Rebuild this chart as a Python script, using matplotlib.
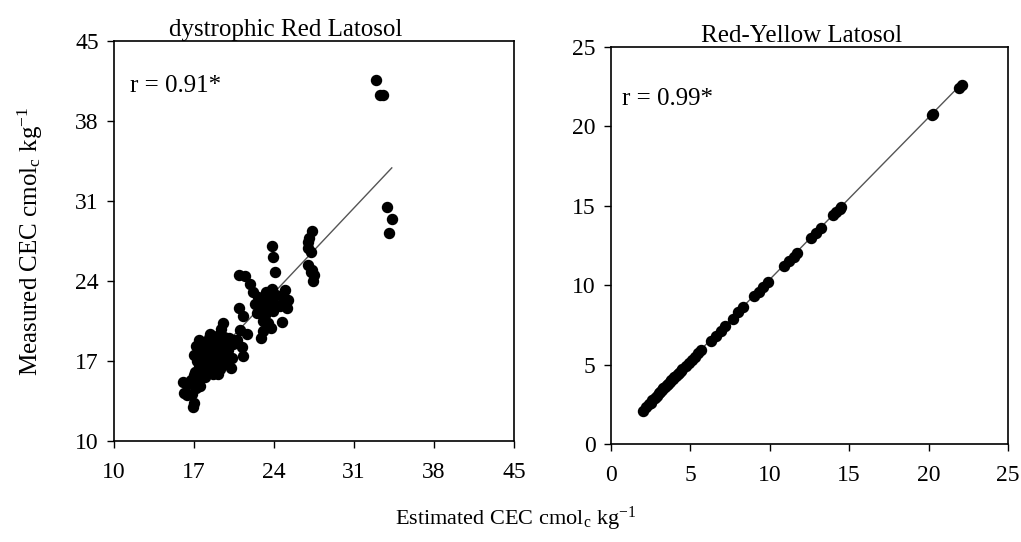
import numpy as np
import matplotlib
matplotlib.use('Agg')
import matplotlib.pyplot as plt

plt.rcParams['font.family'] = ['Liberation Serif', 'DejaVu Serif']
plt.rcParams['mathtext.fontset'] = 'custom'
plt.rcParams['mathtext.rm'] = 'Liberation Serif'
plt.rcParams['mathtext.it'] = 'Liberation Serif'

# dystrophic Red Latosol: estimated (x) vs measured (y) CEC
red_x = [16.0, 16.1, 16.5, 16.8, 17.0, 16.9, 17.2, 16.4, 17.3, 17.0, 16.7, 17.5,
         17.0, 17.2, 17.4, 17.5, 17.6, 17.8, 17.9, 18.0, 18.1, 18.2, 18.3, 18.4,
         18.5, 18.6, 18.7, 18.8, 18.9, 19.0, 19.1, 19.2, 19.3, 19.4, 19.5, 19.6,
         19.7, 19.8, 20.0, 20.1, 20.2, 20.3, 17.3, 17.7, 18.0, 18.3, 18.6, 18.9,
         19.1, 17.5, 17.1, 18.4, 19.9, 20.4, 17.8, 18.2, 18.5, 18.8, 19.3, 19.6,
         17.4, 17.9,
         20.9, 21.3, 21.0, 21.6, 21.2, 21.3, 20.8, 20.9, 21.5, 21.9, 22.2, 20.4,
         22.3, 22.5, 22.6, 22.8, 23.0, 23.0, 23.2, 23.3, 23.4, 23.5, 23.6, 23.7,
         23.8, 23.9, 24.0, 24.2, 24.5, 24.7, 24.8, 25.0, 25.2, 25.1, 23.0, 22.9,
         23.8, 23.9, 24.1,
         27.0, 27.1, 27.3, 27.0, 27.2, 27.0, 27.3, 27.5, 27.4, 27.2,
         32.9, 33.3, 33.5, 33.9, 34.3, 34.1]
red_y = [15.2, 14.2, 15.0, 14.1, 13.3, 13.0, 14.6, 14.0, 15.4, 15.8, 15.3, 14.8,
         17.5, 18.3, 16.5, 17.8, 16.0, 18.6, 17.2, 15.6, 16.8, 18.0, 19.0, 17.4,
         16.2, 18.5, 15.9, 17.8, 16.7, 19.2, 18.1, 17.0, 16.3, 19.8, 20.3, 18.6,
         17.5, 16.9, 18.0, 19.0, 16.4, 17.3, 17.0, 17.9, 17.6, 16.3, 17.1, 18.7,
         15.9, 15.5, 16.0, 19.4, 17.8, 18.5, 16.4, 17.2, 18.9, 16.2, 17.8, 19.1,
         18.8, 15.8,
         21.6, 20.9, 19.7, 19.4, 18.2, 17.4, 18.8, 24.5, 24.4, 23.7, 23.0, 18.8,
         22.0, 21.2, 22.6, 21.6, 20.5, 22.2, 21.0, 23.0, 21.8, 20.3, 22.4, 19.9,
         23.3, 21.4, 22.0, 22.8, 21.8, 20.4, 22.5, 23.2, 22.3, 21.6, 19.6, 19.0,
         27.1, 26.1, 24.8,
         27.4, 27.8, 28.4, 26.9, 26.5, 25.4, 25.0, 24.5, 24.0, 24.8,
         41.6, 40.3, 40.3, 30.5, 29.4, 28.2]
red_fit_x = [16.0, 34.3]
red_fit_y = [14.5, 33.9]

# Red-Yellow Latosol
ry_x = [2.0, 2.2, 2.4, 2.5, 2.6, 2.8, 2.9, 3.0, 3.1, 3.2, 3.3, 3.4, 3.5, 3.6,
        3.7, 3.8, 3.9, 4.0, 4.1, 4.2, 4.3, 4.4, 4.5, 4.7, 4.9, 5.1, 5.3, 5.5,
        5.7, 6.3, 6.6, 6.9, 7.2, 7.7, 8.0, 8.3, 9.0, 9.3, 9.6, 9.9, 10.9, 11.2,
        11.5, 11.7, 12.6, 12.9, 13.2, 14.0, 14.2, 14.4, 14.5, 20.2, 20.3, 21.9,
        22.1]
ry_y = [2.1, 2.3, 2.5, 2.6, 2.8, 2.9, 3.0, 3.2, 3.3, 3.4, 3.5, 3.6, 3.7, 3.8,
        3.9, 4.0, 4.1, 4.2, 4.3, 4.4, 4.5, 4.6, 4.7, 4.9, 5.1, 5.3, 5.5, 5.7,
        5.9, 6.5, 6.8, 7.1, 7.4, 7.9, 8.3, 8.6, 9.3, 9.6, 9.9, 10.2, 11.2, 11.5,
        11.8, 12.0, 13.0, 13.3, 13.6, 14.4, 14.6, 14.8, 14.9, 20.7, 20.8, 22.4,
        22.6]
ry_fit_x = [1.8, 22.0]
ry_fit_y = [2.0, 22.6]

fig = plt.figure(figsize=(10.21, 5.42), dpi=100)
ax1 = fig.add_axes([0.1117, 0.1863, 0.3918, 0.738])
ax2 = fig.add_axes([0.5984, 0.1808, 0.3888, 0.7325])

ax1.plot(red_fit_x, red_fit_y, color='#555555', lw=1.0, zorder=1)
ax1.scatter(red_x, red_y, s=52, color='black', zorder=2)
ax1.set_xlim(10, 45)
ax1.set_ylim(10, 45)
ax1.set_xticks([10, 17, 24, 31, 38, 45])
ax1.set_yticks([10, 17, 24, 31, 38, 45])
ax1.text(11.4, 41.1, 'r = 0.91*', fontsize=18, va='center')
ax1.set_title('dystrophic Red Latosol', fontsize=18, x=0.43, pad=2)

ax2.plot(ry_fit_x, ry_fit_y, color='#555555', lw=1.0, zorder=1)
ax2.scatter(ry_x, ry_y, s=52, color='black', zorder=2)
ax2.set_xlim(0, 25)
ax2.set_ylim(0, 25)
ax2.set_xticks([0, 5, 10, 15, 20, 25])
ax2.set_yticks([0, 5, 10, 15, 20, 25])
ax2.text(0.7, 21.7, 'r = 0.99*', fontsize=18, va='center')
ax2.set_title('Red-Yellow Latosol', fontsize=18, x=0.48, pad=1)

for ax in (ax1, ax2):
    for sp in ax.spines.values():
        sp.set_linewidth(1.2)
    ax.tick_params(labelsize=17, length=5, width=1.0, direction='out')
    ax.tick_params(axis='x', pad=10)
    ax.tick_params(axis='y', pad=6)

fig.text(0.03, 0.555, r'Measured CEC cmol$_c$ kg$^{-1}$', fontsize=18,
         rotation=90, ha='center', va='center')
fig.text(0.505, 0.042, r'Estimated CEC cmol$_c$ kg$^{-1}$', fontsize=16,
         ha='center', va='center')

fig.savefig('out.png', dpi=100)
